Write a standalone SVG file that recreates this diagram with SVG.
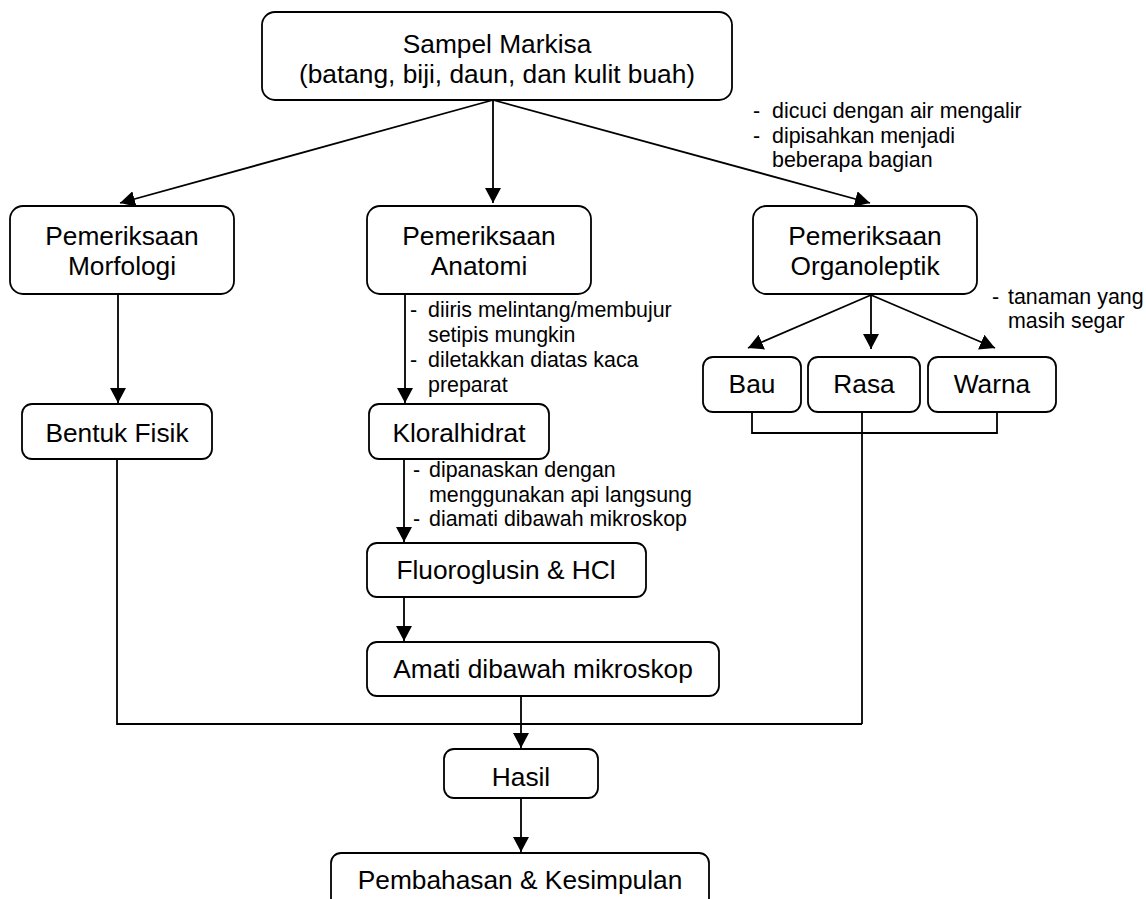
<svg xmlns="http://www.w3.org/2000/svg" width="1146" height="899" viewBox="0 0 1146 899">
<defs>
<marker id="arr" markerUnits="userSpaceOnUse" markerWidth="16" markerHeight="16" refX="15" refY="8" orient="auto">
<path d="M0,0 L15,8 L0,16 Z" fill="#000"/>
</marker>
<style>
.box{fill:#fff;stroke:#000;stroke-width:1.8}
.t{font-family:"Liberation Sans",Arial,sans-serif;font-size:26.3px;fill:#000;text-anchor:middle}
.a{font-family:"Liberation Sans",Arial,sans-serif;font-size:21.4px;fill:#000}
.c{fill:none;stroke:#000;stroke-width:1.8}
</style>
</defs>
<rect width="1146" height="899" fill="#fff"/>
<g id="connectors">
<path class="c" d="M493,100 L120,203" marker-end="url(#arr)"/>
<path class="c" d="M493,100 L493,203" marker-end="url(#arr)"/>
<path class="c" d="M493,100 L870,203" marker-end="url(#arr)"/>
<path class="c" d="M118,294 L118,403" marker-end="url(#arr)"/>
<path class="c" d="M405,294 L405,403" marker-end="url(#arr)"/>
<path class="c" d="M404,459 L404,542" marker-end="url(#arr)"/>
<path class="c" d="M404,597 L404,641" marker-end="url(#arr)"/>
<path class="c" d="M871,295 L748,348" marker-end="url(#arr)"/>
<path class="c" d="M871,295 L871,349" marker-end="url(#arr)"/>
<path class="c" d="M871,295 L995,348" marker-end="url(#arr)"/>
<path class="c" d="M752,412 V433 H997 V412"/>
<path class="c" d="M862,412 V724"/>
<path class="c" d="M117,459 V724 H862"/>
<path class="c" d="M521,696 V748" marker-end="url(#arr)"/>
<path class="c" d="M521,798 V852" marker-end="url(#arr)"/>
</g>
<g id="sampel">
<rect class="box" x="262" y="12" width="470" height="88" rx="13"/>
<text class="t" x="497" y="53">Sampel Markisa</text>
<text class="t" x="497" y="83">(batang, biji, daun, dan kulit buah)</text>
</g>
<g id="note-sampel">
<text class="a" x="753" y="118">-</text><text class="a" x="772" y="118">dicuci dengan air mengalir</text>
<text class="a" x="753" y="143">-</text><text class="a" x="772" y="143">dipisahkan menjadi</text>
<text class="a" x="772" y="167">beberapa bagian</text>
</g>
<g id="morfologi">
<rect class="box" x="10" y="206" width="224" height="88" rx="13"/>
<text class="t" x="122" y="245">Pemeriksaan</text>
<text class="t" x="122" y="275">Morfologi</text>
</g>
<g id="anatomi">
<rect class="box" x="367" y="206" width="224" height="88" rx="13"/>
<text class="t" x="479" y="245">Pemeriksaan</text>
<text class="t" x="479" y="275">Anatomi</text>
</g>
<g id="organoleptik">
<rect class="box" x="753" y="206" width="224" height="88" rx="13"/>
<text class="t" x="865" y="245">Pemeriksaan</text>
<text class="t" x="865" y="275">Organoleptik</text>
</g>
<g id="note-anatomi">
<text class="a" x="410" y="317">-</text><text class="a" x="428" y="317">diiris melintang/membujur</text>
<text class="a" x="428" y="342">setipis mungkin</text>
<text class="a" x="410" y="367">-</text><text class="a" x="428" y="367">diletakkan diatas kaca</text>
<text class="a" x="428" y="392">preparat</text>
</g>
<g id="note-organoleptik">
<text class="a" x="992" y="304">-</text><text class="a" x="1008" y="304">tanaman yang</text>
<text class="a" x="1008" y="328">masih segar</text>
</g>
<g id="bentuk">
<rect class="box" x="22" y="404" width="190" height="55" rx="10"/>
<text class="t" x="117" y="442">Bentuk Fisik</text>
</g>
<g id="kloral">
<rect class="box" x="369" y="404" width="180" height="55" rx="10"/>
<text class="t" x="459" y="442">Kloralhidrat</text>
</g>
<g id="bau">
<rect class="box" x="703" y="357" width="98" height="55" rx="10"/>
<text class="t" x="752" y="393">Bau</text>
</g>
<g id="rasa">
<rect class="box" x="808" y="357" width="112" height="55" rx="10"/>
<text class="t" x="864" y="393">Rasa</text>
</g>
<g id="warna">
<rect class="box" x="928" y="357" width="128" height="55" rx="10"/>
<text class="t" x="992" y="393">Warna</text>
</g>
<g id="note-kloral">
<text class="a" x="413" y="477">-</text><text class="a" x="429" y="477">dipanaskan dengan</text>
<text class="a" x="429" y="502">menggunakan api langsung</text>
<text class="a" x="413" y="526">-</text><text class="a" x="429" y="526">diamati dibawah mikroskop</text>
</g>
<g id="fluoro">
<rect class="box" x="367" y="543" width="279" height="54" rx="10"/>
<text class="t" x="506" y="579">Fluoroglusin &amp; HCl</text>
</g>
<g id="amati">
<rect class="box" x="367" y="642" width="352" height="54" rx="10"/>
<text class="t" x="543" y="678">Amati dibawah mikroskop</text>
</g>
<g id="hasil">
<rect class="box" x="444" y="749" width="154" height="49" rx="10"/>
<text class="t" x="521" y="786">Hasil</text>
</g>
<g id="pembahasan">
<rect class="box" x="331" y="853" width="378" height="60" rx="10"/>
<text class="t" x="520" y="889">Pembahasan &amp; Kesimpulan</text>
</g>
</svg>
